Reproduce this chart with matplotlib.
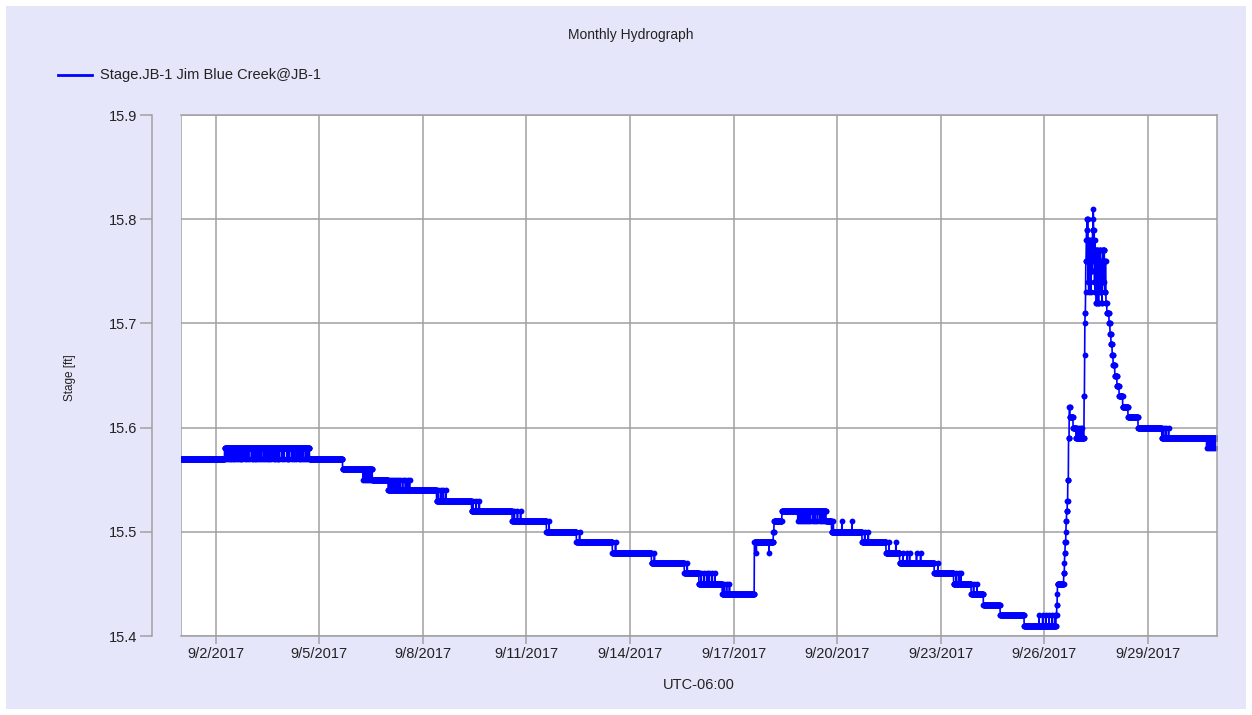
import numpy as np
import matplotlib
matplotlib.use("Agg")
import matplotlib.pyplot as plt
import matplotlib.dates as mdates
from matplotlib.lines import Line2D
from matplotlib.patches import Rectangle
from datetime import datetime

plt.rcParams['font.family'] = ['Liberation Sans', 'DejaVu Sans']

# stage readings: day of month (fractional) where the reading changes, and the new value
bp_day = [1.00, 2.26, 4.72, 5.68, 6.54, 7.00, 8.40, 9.41, 10.59, 11.58,
          12.45, 13.49, 14.62, 15.57, 16.00, 16.67, 17.60, 18.15, 18.17, 18.40,
          19.68, 19.84, 20.72, 21.41, 21.81, 22.81, 23.37, 23.88, 24.23, 24.72,
          25.41, 26.34, 26.36, 26.37, 26.38, 26.56, 26.58, 26.59, 26.60, 26.62,
          26.63, 26.64, 26.66, 26.68, 26.70, 26.72, 26.74, 26.83, 26.91, 27.15,
          27.16, 27.17, 27.18, 27.19, 27.20, 27.21, 27.22, 27.23, 27.24, 27.25,
          27.26, 27.27, 27.28, 27.29, 27.30, 27.31, 27.32, 27.33, 27.34, 27.35,
          27.36, 27.37, 27.39, 27.41, 27.42, 27.43, 27.44, 27.45, 27.46, 27.47,
          27.48, 27.50, 27.52, 27.53, 27.55, 27.56, 27.58, 27.60, 27.62, 27.64,
          27.66, 27.68, 27.70, 27.72, 27.74, 27.76, 27.78, 27.81, 27.87, 27.90,
          27.93, 27.96, 27.99, 28.04, 28.10, 28.16, 28.27, 28.42, 28.71, 29.40]
bp_val = [15.57, 15.58, 15.57, 15.56, 15.55, 15.54, 15.53, 15.52, 15.51, 15.50,
          15.49, 15.48, 15.47, 15.46, 15.45, 15.44, 15.49, 15.50, 15.51, 15.52,
          15.51, 15.50, 15.49, 15.48, 15.47, 15.46, 15.45, 15.44, 15.43, 15.42,
          15.41, 15.42, 15.43, 15.44, 15.45, 15.46, 15.47, 15.48, 15.49, 15.50,
          15.51, 15.52, 15.53, 15.55, 15.59, 15.62, 15.61, 15.60, 15.59, 15.63,
          15.67, 15.70, 15.71, 15.73, 15.76, 15.78, 15.79, 15.80, 15.76, 15.80,
          15.74, 15.78, 15.73, 15.77, 15.78, 15.75, 15.78, 15.74, 15.76, 15.73,
          15.78, 15.75, 15.79, 15.81, 15.80, 15.76, 15.79, 15.74, 15.78, 15.73,
          15.77, 15.72, 15.77, 15.74, 15.77, 15.72, 15.75, 15.77, 15.73, 15.76,
          15.72, 15.77, 15.74, 15.77, 15.73, 15.76, 15.72, 15.71, 15.70, 15.69,
          15.68, 15.67, 15.66, 15.65, 15.64, 15.63, 15.62, 15.61, 15.60, 15.59]

# single-reading flickers between two neighbouring levels
blip_day = [2.30, 2.36, 2.41, 2.45, 2.49, 2.55, 2.60, 2.64, 2.70, 2.75,
            2.78, 2.84, 2.90, 2.96, 3.04, 3.09, 3.13, 3.18, 3.22, 3.28,
            3.33, 3.40, 3.46, 3.51, 3.56, 3.62, 3.68, 3.72, 3.77, 3.81,
            3.85, 3.92, 3.98, 4.06, 4.10, 4.14, 4.21, 4.27, 4.34, 4.40,
            4.45, 4.49, 4.55, 4.62, 4.67,
            6.28, 6.33, 6.38, 6.44, 6.50,
            7.04, 7.10, 7.16, 7.22, 7.28, 7.35, 7.42, 7.50, 7.56, 7.62,
            8.45, 8.52, 8.60, 8.67, 9.46, 9.55, 9.64, 10.65, 10.74, 10.83,
            11.66, 12.54, 13.58, 14.71, 15.66,
            16.06, 16.14, 16.22, 16.30, 16.38, 16.46, 16.73, 16.80, 16.88,
            17.66, 18.03,
            18.86, 18.92, 18.98, 19.04, 19.10, 19.16, 19.22, 19.29, 19.36, 19.43,
            19.50, 19.57, 19.63,
            19.89, 20.14, 20.43, 20.80, 20.90, 21.50, 21.70,
            21.90, 22.02, 22.10, 22.30, 22.42, 22.92, 23.45, 23.52, 23.58,
            23.95, 24.05,
            25.85, 25.95, 26.05, 26.14, 26.22, 26.30,
            26.95, 27.00, 27.05, 27.10,
            29.45, 29.52, 29.60,
            30.70, 30.76, 30.82, 30.88, 30.94]
blip_val = [15.57] * 45 + [15.55] * 5 + [15.55] * 10 + \
           [15.54, 15.54, 15.54, 15.54, 15.53, 15.53, 15.53, 15.52, 15.52, 15.52,
            15.51, 15.50, 15.49, 15.48, 15.47] + \
           [15.46] * 6 + [15.45] * 3 + [15.48, 15.48] + [15.51] * 13 + \
           [15.51, 15.51, 15.51, 15.50, 15.50, 15.49, 15.49] + \
           [15.48] * 5 + [15.47, 15.46, 15.46, 15.46] + [15.45, 15.45] + \
           [15.42] * 6 + [15.60] * 4 + [15.60] * 3 + [15.58] * 5

y_ticks = [15.4, 15.5, 15.6, 15.7, 15.8, 15.9]
x_tick_days = [2, 5, 8, 11, 14, 17, 20, 23, 26, 29]

# 10 minute readings held at the last logged level
dt = 1 / 144
t = 1.0 + np.arange(30 * 144) * dt
idx = np.searchsorted(np.array(bp_day), t + 1e-9, side='right') - 1
stage = np.array(bp_val)[idx]
bi = np.round((np.array(blip_day) - 1.0) / dt).astype(int)
stage[bi] = blip_val

base = mdates.date2num(datetime(2017, 9, 1))
x = base + (t - 1.0)

W, H = 1252, 715
fig = plt.figure(figsize=(W / 100, H / 100), dpi=100, facecolor='white')
fig.add_artist(Rectangle((6 / W, 6 / H), 1240 / W, 703 / H, transform=fig.transFigure,
                         facecolor='#E6E6FA', edgecolor='none', zorder=-10))

ax = fig.add_axes([181 / W, 1 - 636 / H, 1036 / W, 521 / H])
ax.patch.set_facecolor('white')

ax.plot(x, stage, '-', color='#0000FF', lw=1.2, marker='o', ms=4.2, mew=0, clip_on=True)

ax.set_ylim(15.4, 15.9)
ax.set_xlim(base, base + 30)
ax.set_yticks(y_ticks)
ax.set_yticklabels([f"{v:.1f}" for v in y_ticks])
ax.set_xticks([base + d - 1 for d in x_tick_days])
ax.set_xticklabels([f"9/{d}/2017" for d in x_tick_days])

gc = '#A0A0A0'
ax.grid(True, color=gc, lw=1.1)
ax.set_axisbelow(True)
for s in ['top', 'right', 'bottom']:
    ax.spines[s].set_color(gc)
    ax.spines[s].set_linewidth(1.1)
ax.spines['left'].set_position(('outward', 21))
ax.spines['left'].set_color(gc)
ax.spines['left'].set_linewidth(1.1)
ax.axvline(base, color=gc, lw=1.1, zorder=0.5)

ax.tick_params(axis='y', direction='out', length=8.5, width=1.1, color=gc,
               labelsize=10.5, pad=2, labelcolor='#222222')
ax.tick_params(axis='x', direction='out', length=6, width=1.1, color=gc,
               labelsize=10.5, pad=2, labelcolor='#222222')

ax.set_xlabel('UTC-06:00', fontsize=10.5, color='#222222', labelpad=12)
fig.text(70 / W, 1 - 378 / H, 'Stage [ft]', rotation=90, ha='center', va='center',
         fontsize=8.5, color='#222222')

fig.text(631 / W, 1 - 35 / H, 'Monthly Hydrograph', ha='center', va='center',
         fontsize=10, color='#222222')
fig.add_artist(Line2D([58 / W, 92 / W], [1 - 75 / H, 1 - 75 / H], color='#0000FF', lw=2))
fig.text(100 / W, 1 - 75 / H, 'Stage.JB-1 Jim Blue Creek@JB-1', ha='left', va='center',
         fontsize=10.5, color='#222222')

fig.savefig('out.png', dpi=100)
